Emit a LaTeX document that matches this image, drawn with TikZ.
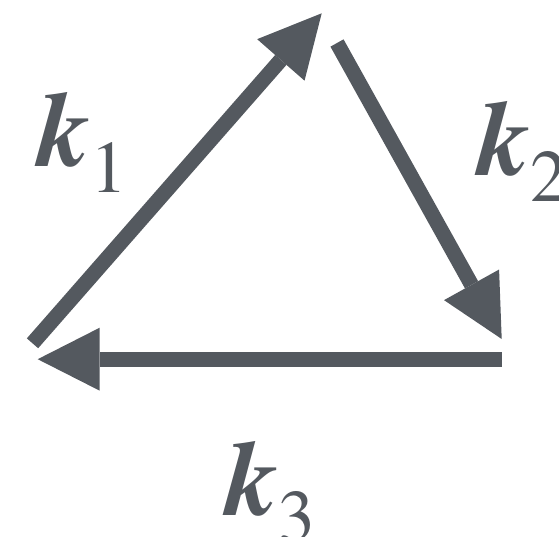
\documentclass[tikz,border=0pt]{standalone}
\usepackage{fontspec}
\setmainfont{texgyretermes}[Extension=.otf,UprightFont=*-regular,ItalicFont=*-italic,BoldFont=*-bold,BoldItalicFont=*-bolditalic]
\usetikzlibrary{arrows.meta}
\definecolor{arrowgray}{RGB}{84,89,95}
\newcommand\klabel[1]{\fontsize{106}{106}\selectfont\textbf{\textit{k}}\kern0pt\raisebox{-26pt}{\fontsize{74}{74}\selectfont #1}}
\tikzset{
  flow/.style={draw=arrowgray, line width=15pt,
    -{Triangle[length=62pt,width=63pt,line width=0pt]}},
  klab/.style={text=arrowgray, inner sep=0pt, outer sep=0pt, anchor=base west}
}
\begin{document}
\begin{tikzpicture}[x=1pt,y=-1pt]
\useasboundingbox (0,0) rectangle (559,537);
\coordinate (a1s) at (32.5,343.3);
\coordinate (a1e) at (321.7,13.3);
\coordinate (a2s) at (337,43);
\coordinate (a2e) at (501.7,339);
\coordinate (a3s) at (501.7,359.2);
\coordinate (a3e) at (37.7,359.2);
\draw[flow] (a1s) -- (a1e);
\draw[flow] (a2s) -- (a2e);
\draw[flow] (a3s) -- (a3e);
\node[klab] (k1) at (37,167) {\klabel{1}};
\node[klab] (k2) at (477,176) {\klabel{2}};
\node[klab] (k3) at (225,515) {\klabel{3}};
\end{tikzpicture}
\end{document}
